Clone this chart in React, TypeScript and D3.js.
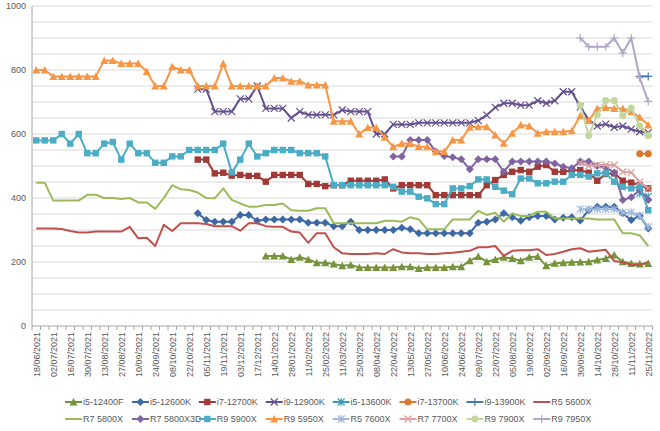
import React from "react";
import * as d3 from "d3";

const categories: string[] = [
  "18/06/2021","25/06/2021","02/07/2021","09/07/2021","16/07/2021","23/07/2021","30/07/2021","06/08/2021",
  "13/08/2021","20/08/2021","27/08/2021","03/09/2021","10/09/2021","17/09/2021","24/09/2021","01/10/2021",
  "08/10/2021","15/10/2021","22/10/2021","29/10/2021","05/11/2021","12/11/2021","19/11/2021","26/11/2021",
  "03/12/2021","10/12/2021","17/12/2021","07/01/2022","14/01/2022","21/01/2022","28/01/2022","04/02/2022",
  "11/02/2022","18/02/2022","25/02/2022","04/03/2022","11/03/2022","18/03/2022","25/03/2022","01/04/2022",
  "08/04/2022","15/04/2022","22/04/2022","06/05/2022","13/05/2022","20/05/2022","27/05/2022","03/06/2022",
  "10/06/2022","17/06/2022","24/06/2022","01/07/2022","09/07/2022","15/07/2022","22/07/2022","29/07/2022",
  "05/08/2022","12/08/2022","19/08/2022","26/08/2022","02/09/2022","09/09/2022","16/09/2022","23/09/2022",
  "30/09/2022","07/10/2022","14/10/2022","21/10/2022","28/10/2022","04/11/2022","11/11/2022","18/11/2022",
  "25/11/2022",
];

const yTicks: number[] = [0, 200, 400, 600, 800, 1000];

const N = categories.length;
const pad = (start: number, vals: number[]): (number | null)[] => {
  const out: (number | null)[] = [];
  for (let i = 0; i < start; i++) out.push(null);
  vals.forEach((v) => out.push(v));
  while (out.length < N) out.push(null);
  return out;
};

const i5_12400F = pad(27, [219,219,219,208,215,208,198,198,194,188,191,183,183,183,183,183,185,185,180,183,183,183,185,185,204,217,201,208,215,211,204,215,217,188,196,198,199,200,201,206,211,222,201,195,194,195]);
const i5_12600K = pad(19, [352,331,326,326,326,347,347,329,333,333,333,333,333,323,323,323,312,312,326,300,300,300,300,300,307,302,290,290,290,290,290,290,290,323,326,333,352,340,329,340,344,344,333,338,340,330,362,373,373,373,352,331,344,305]);
const i7_12700K = pad(19, [520,520,477,479,470,472,469,469,451,472,472,472,472,444,444,437,440,440,454,454,454,454,458,430,440,440,440,440,409,409,409,409,409,409,440,456,472,482,487,482,498,503,482,482,487,487,479,454,475,477,454,448,440,430]);
const i9_12900K = pad(19, [740,740,670,670,670,710,710,750,680,680,680,650,670,660,660,660,660,675,670,670,670,600,600,630,630,630,635,635,635,635,635,635,635,642,659,683,696,696,690,690,704,696,704,732,732,685,644,625,631,621,625,615,607,604]);
const i5_13600K = pad(71, [415,405]);
const i7_13700K = pad(71, [538,538]);
const i9_13900K = pad(71, [780,780]);
const r5_5600X = pad(0, [305,305,305,303,297,292,292,295,295,295,295,310,274,276,250,316,297,321,321,321,319,312,312,312,298,321,321,312,310,310,295,292,260,290,290,246,227,225,225,225,227,225,240,230,227,227,225,225,227,229,232,235,246,246,250,219,235,237,237,240,222,225,232,240,243,232,235,238,203,199,191,191,199]);
const r7_5800X = pad(0, [448,448,392,392,392,392,410,410,400,400,397,400,386,386,366,400,440,427,425,417,400,399,430,394,383,373,373,378,378,383,362,360,360,368,368,321,321,321,321,321,321,329,329,326,340,333,302,302,302,333,333,333,360,347,354,326,352,344,344,357,357,336,336,336,336,336,333,333,333,290,290,283,250]);
const r7_5800X3D = pad(42, [530,530,581,581,581,545,531,527,521,490,521,521,521,482,514,514,514,514,514,508,498,493,514,514,500,495,480,394,402,425,394]);
const r9_5900X = pad(0, [580,580,580,600,570,600,540,540,570,575,520,570,540,540,510,510,530,530,550,550,550,550,570,480,520,570,530,540,550,550,550,540,540,540,530,440,440,440,440,440,440,440,435,420,420,404,399,381,381,430,430,437,458,458,435,423,412,461,461,446,446,451,451,472,472,467,477,477,451,435,430,435,362]);
const r9_5950X = pad(0, [800,800,780,780,780,780,780,780,830,830,820,820,820,795,750,750,810,800,800,750,750,750,820,750,750,750,750,750,775,775,765,765,753,753,753,640,640,640,600,620,620,590,560,570,570,560,560,545,545,581,581,621,623,623,597,571,602,628,625,602,607,607,607,610,657,642,680,683,680,680,670,652,628]);
const r5_7600X = pad(64, [365,365,365,365,365,355,355,345,310]);
const r7_7700X = pad(64, [510,500,503,503,503,482,480,450,430]);
const r9_7900X = pad(64, [690,595,660,705,705,657,681,625,595]);
const r9_7950X = pad(64, [900,873,873,873,900,853,900,775,702]);

type Marker = "triangle" | "diamond" | "square" | "x" | "star" | "circle" | "plus" | "none";
const series: { name: string; values: (number | null)[]; color: string; marker: Marker }[] = [
  { name: "i5-12400F", values: i5_12400F, color: "#77933C", marker: "triangle" },
  { name: "i5-12600K", values: i5_12600K, color: "#3C68A6", marker: "diamond" },
  { name: "i7-12700K", values: i7_12700K, color: "#A03A37", marker: "square" },
  { name: "i9-12900K", values: i9_12900K, color: "#64508E", marker: "x" },
  { name: "i5-13600K", values: i5_13600K, color: "#3A9CB5", marker: "star" },
  { name: "i7-13700K", values: i7_13700K, color: "#DA7A2E", marker: "circle" },
  { name: "i9-13900K", values: i9_13900K, color: "#4A78B4", marker: "plus" },
  { name: "R5 5600X", values: r5_5600X, color: "#C0504D", marker: "none" },
  { name: "R7 5800X", values: r7_5800X, color: "#9BBB59", marker: "none" },
  { name: "R7 5800X3D", values: r7_5800X3D, color: "#8064A2", marker: "diamond" },
  { name: "R9 5900X", values: r9_5900X, color: "#4BACC6", marker: "square" },
  { name: "R9 5950X", values: r9_5950X, color: "#F79646", marker: "triangle" },
  { name: "R5 7600X", values: r5_7600X, color: "#9DB9DD", marker: "star" },
  { name: "R7 7700X", values: r7_7700X, color: "#DDA09E", marker: "x" },
  { name: "R9 7900X", values: r9_7900X, color: "#C3D69B", marker: "circle" },
  { name: "R9 7950X", values: r9_7950X, color: "#B1A6C6", marker: "plus" },
];

const W = 660, H = 431;
const left = 32, right = 652.5, top = 6, bottom = 326;
const FONT = "'Liberation Sans', Arial, sans-serif";
const TXT = "#595959";

function MarkerShape({ type, x, y, color }: { type: Marker; x: number; y: number; color: string }) {
  const s = 3.5;
  switch (type) {
    case "triangle":
      return <path d={`M${x},${y - s - 0.5}L${x + s + 0.5},${y + s}L${x - s - 0.5},${y + s}Z`} fill={color} />;
    case "diamond":
      return <path d={`M${x},${y - s - 0.5}L${x + s + 0.5},${y}L${x},${y + s + 0.5}L${x - s - 0.5},${y}Z`} fill={color} />;
    case "square":
      return <rect x={x - 3.2} y={y - 3.2} width={6.4} height={6.4} fill={color} />;
    case "circle":
      return <circle cx={x} cy={y} r={3.5} fill={color} />;
    case "x":
      return <path d={`M${x - s},${y - s}L${x + s},${y + s}M${x - s},${y + s}L${x + s},${y - s}`} stroke={color} strokeWidth={1.2} fill="none" />;
    case "star":
      return <path d={`M${x - s},${y - s}L${x + s},${y + s}M${x - s},${y + s}L${x + s},${y - s}M${x},${y - s - 0.5}L${x},${y + s + 0.5}`} stroke={color} strokeWidth={1.2} fill="none" />;
    case "plus":
      return <path d={`M${x - s - 0.5},${y}L${x + s + 0.5},${y}M${x},${y - s - 0.5}L${x},${y + s + 0.5}`} stroke={color} strokeWidth={1.2} fill="none" />;
    default:
      return null;
  }
}

export default function App() {
  const x = d3.scaleBand<string>().domain(categories).range([left, right]);
  const cx = (c: string) => (x(c) as number) + x.bandwidth() / 2;
  const y = d3.scaleLinear().domain([0, 1000]).range([bottom, top]);
  const grid = d3.range(50, 1001, 50);

  const line = d3
    .line<{ c: string; v: number | null }>()
    .defined((d) => d.v !== null)
    .x((d) => cx(d.c))
    .y((d) => y(d.v as number));

  const colW = 66.9;
  const legendRows = [402, 419];

  return (
    <svg width={W} height={H} style={{ position: "absolute", left: 0, top: 0, background: "#fff" }} fontFamily={FONT}>
      {grid.map((g) => (
        <line key={g} x1={left} x2={right} y1={y(g)} y2={y(g)} stroke="#D9D9D9" strokeWidth={1} />
      ))}
      <line x1={left} x2={left} y1={top} y2={bottom} stroke="#A6A6A6" />
      <line x1={left} x2={right} y1={bottom} y2={bottom} stroke="#A6A6A6" />
      {categories.map((c, i) => (
        <line key={"t" + i} x1={x(c) as number} x2={x(c) as number} y1={bottom} y2={bottom + 4} stroke="#A6A6A6" />
      ))}
      <line x1={right} x2={right} y1={bottom} y2={bottom + 4} stroke="#A6A6A6" />
      {yTicks.map((t) => (
        <text key={t} x={26} y={y(t)} dy="0.35em" textAnchor="end" fontSize={9} fill={TXT}>
          {t}
        </text>
      ))}
      {categories.map((c, i) =>
        i % 2 === 0 ? (
          <text
            key={"l" + i}
            transform={`translate(${cx(c) + 1},${bottom + 6}) rotate(-90)`}
            dy="0.35em"
            textAnchor="end"
            fontSize={9}
            fill={TXT}
          >
            {c}
          </text>
        ) : null
      )}
      {series.map((s) => {
        const pts = categories.map((c, i) => ({ c, v: s.values[i] }));
        return (
          <g key={s.name}>
            <path d={line(pts) || ""} fill="none" stroke={s.color} strokeWidth={2} strokeLinejoin="round" />
            {pts.map((p, i) =>
              p.v !== null ? <MarkerShape key={i} type={s.marker} x={cx(p.c)} y={y(p.v)} color={s.color} /> : null
            )}
          </g>
        );
      })}
      {series.map((s, k) => {
        const row = Math.floor(k / 8);
        const col = k % 8;
        const tx = 83 + colW * col;
        const ly = legendRows[row];
        return (
          <g key={"lg" + s.name}>
            <line x1={tx - 18} x2={tx - 1} y1={ly} y2={ly} stroke={s.color} strokeWidth={2} />
            <MarkerShape type={s.marker} x={tx - 9.5} y={ly} color={s.color} />
            <text x={tx} y={ly} dy="0.35em" fontSize={9} fill={TXT}>
              {s.name}
            </text>
          </g>
        );
      })}
    </svg>
  );
}
